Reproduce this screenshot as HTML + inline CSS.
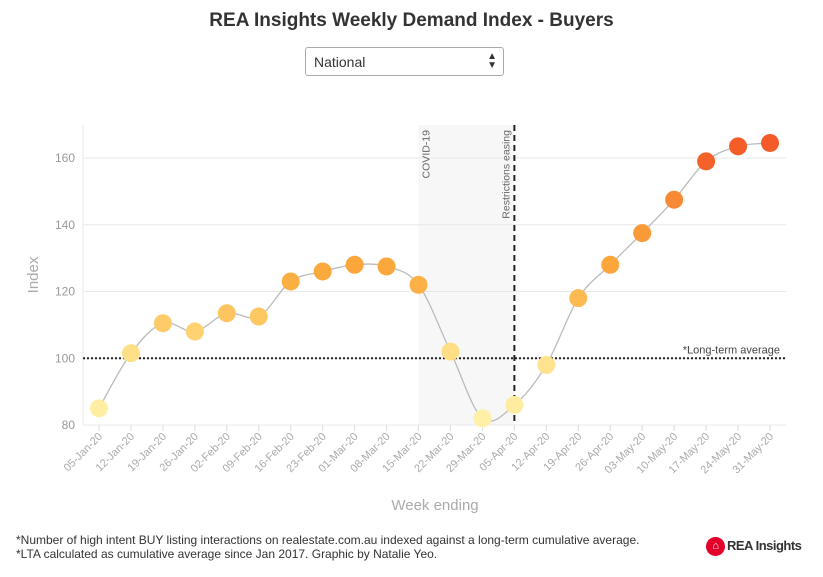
<!DOCTYPE html>
<html><head><meta charset="utf-8"><style>
body{margin:0;background:#fff;font-family:"Liberation Sans",sans-serif;}
#wrap{position:relative;width:823px;height:577px;overflow:hidden}
.title{position:absolute;top:10px;left:0;width:823px;text-align:center;font-size:19px;font-weight:bold;color:#333}
.sel{position:absolute;left:305px;top:47px;width:199px;height:29px;border:1px solid #aaa;border-radius:3px;box-sizing:border-box;font-size:14px;color:#333;padding:6px 8px}
.sel span{position:absolute;right:6px;top:4px;font-size:10px;line-height:9px}
.foot{position:absolute;left:16px;font-size:12px;color:#333}
</style></head><body>
<div id="wrap">
<div class="title">REA Insights Weekly Demand Index - Buyers</div>
<div class="sel">National<span>▲<br>▼</span></div>
<svg id="chart" width="823" height="577" style="position:absolute;left:0;top:0"></svg>
<div class="foot" style="top:533px">*Number of high intent BUY listing interactions on realestate.com.au indexed against a long-term cumulative average.</div>
<div class="foot" style="top:547px">*LTA calculated as cumulative average since Jan 2017. Graphic by Natalie Yeo.</div>
<div style="position:absolute;left:706px;top:537px;font-size:13px;font-weight:bold;color:#333;letter-spacing:-0.5px"><span style="display:inline-block;width:19px;height:19px;border-radius:50%;background:#e4002b;color:#fff;font-size:11px;text-align:center;line-height:19px;vertical-align:middle;margin-right:2px">⌂</span>REA Insights</div>
</div>
<script>
const categories=["05-Jan-20","12-Jan-20","19-Jan-20","26-Jan-20","02-Feb-20","09-Feb-20","16-Feb-20","23-Feb-20","01-Mar-20","08-Mar-20","15-Mar-20","22-Mar-20","29-Mar-20","05-Apr-20","12-Apr-20","19-Apr-20","26-Apr-20","03-May-20","10-May-20","17-May-20","24-May-20","31-May-20"];
const values=[85,101.5,110.5,108,113.5,112.5,123,126,128,127.5,122,102,82,86,98,118,128,137.5,147.5,159,163.5,164.5];
const yTicks=[80,100,120,140,160];
const longTermAvg=100;
const covidStart=10, restrictionsIdx=13;
const NS="http://www.w3.org/2000/svg";
const svg=document.getElementById('chart');
const L=83,R=786,T=125,B=425;
const x=i=>99+i*(770-99)/(categories.length-1);
const y=v=>B-(v-80)*(B-158)/80;
function el(t,a,p){const e=document.createElementNS(NS,t);for(const k in a)e.setAttribute(k,a[k]);(p||svg).appendChild(e);return e;}
const band=el('rect',{x:x(covidStart),y:T,width:x(restrictionsIdx)-x(covidStart),height:B-T,fill:'#f7f7f7'});

yTicks.forEach(v=>{const g=el('line',{x1:L,x2:R,y1:y(v),y2:y(v),stroke:'#e8e8e8'});

const t=el('text',{x:L-8,y:y(v)+4,'text-anchor':'end','font-size':12,fill:'#999'});t.textContent=v;
});
el('line',{x1:L,x2:L,y1:T,y2:B,stroke:'#e8e8e8'});
categories.forEach((c,i)=>{el('line',{x1:x(i),x2:x(i),y1:B,y2:B+6,stroke:'#ddd'});
const t=el('text',{transform:`translate(${x(i)+4},${B+12}) rotate(-45)`,'text-anchor':'end','font-size':11,fill:'#aaa'});t.textContent=c;
});
const yt=el('text',{transform:`translate(38,${(T+B)/2}) rotate(-90)`,'text-anchor':'middle','font-size':15,fill:'#aaa'});yt.textContent='Index';

const xt=el('text',{x:435,y:510,'text-anchor':'middle','font-size':15,fill:'#aaa'});xt.textContent='Week ending';

const la=el('line',{x1:L,x2:R,y1:y(longTermAvg),y2:y(longTermAvg),stroke:'#222','stroke-width':2,'stroke-dasharray':'2,2'});

const lt=el('text',{x:R-6,y:y(longTermAvg)-5,'text-anchor':'end','font-size':11,fill:'#444'});lt.textContent='*Long-term average';

const rl=el('line',{x1:x(restrictionsIdx),x2:x(restrictionsIdx),y1:T,y2:B,stroke:'#222','stroke-width':2,'stroke-dasharray':'6,4'});

const c1=el('text',{transform:`translate(${x(covidStart)+11},${T+5}) rotate(-90)`,'text-anchor':'end','font-size':10.5,fill:'#666'});c1.textContent='COVID-19';

const c2=el('text',{transform:`translate(${x(restrictionsIdx)-5},${T+5}) rotate(-90)`,'text-anchor':'end','font-size':10.5,fill:'#666'});c2.textContent='Restrictions easing';

const pts=values.map((v,i)=>[x(i),y(v)]);
let d=`M${pts[0][0]},${pts[0][1]}`;
for(let i=0;i<pts.length-1;i++){const p0=pts[i-1]||pts[i],p1=pts[i],p2=pts[i+1],p3=pts[i+2]||p2;
d+=`C${p1[0]+(p2[0]-p0[0])/6},${p1[1]+(p2[1]-p0[1])/6} ${p2[0]-(p3[0]-p1[0])/6},${p2[1]-(p3[1]-p1[1])/6} ${p2[0]},${p2[1]}`;}
const line=el('path',{d,fill:'none',stroke:'#bbb','stroke-width':1.3});

function lerp(a,b,t){return a.map((v,k)=>Math.round(v+(b[k]-v)*t));}
function color(v){const s=[[80,[255,240,170]],[100,[255,226,140]],[112,[253,200,100]],[125,[250,170,60]],[145,[248,145,55]],[160,[245,95,40]],[166,[243,90,40]]];
for(let i=0;i<s.length-1;i++){if(v<=s[i+1][0]){const t=Math.max(0,(v-s[i][0])/(s[i+1][0]-s[i][0]));const c=lerp(s[i][1],s[i+1][1],t);return `rgb(${c})`;}}return 'rgb(243,90,40)';}
values.forEach((v,i)=>{const c=el('circle',{cx:x(i),cy:y(v),r:9,fill:color(v)});
});
</script>
</body></html>
